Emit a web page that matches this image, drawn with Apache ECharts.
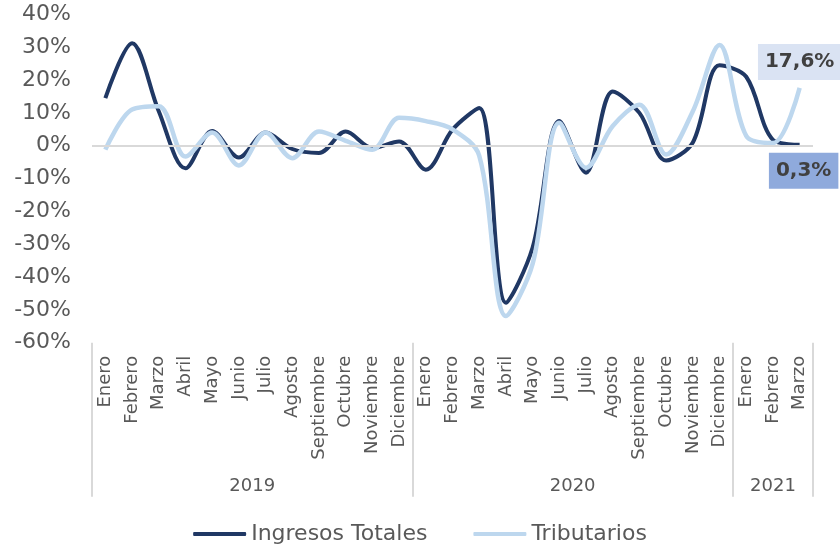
<!DOCTYPE html>
<html>
<head>
<meta charset="utf-8">
<script src="https://cdn.jsdelivr.net/npm/echarts@6/dist/echarts.min.js"></script>
<style>
  html, body { margin: 0; padding: 0; background: #fff; }
  #chart { width: 840px; height: 544px; }
</style>
</head>
<body>
<div id="chart"></div>
<script>
// categories
const months = ['Enero', 'Febrero', 'Marzo', 'Abril', 'Mayo', 'Junio', 'Julio', 'Agosto',
  'Septiembre', 'Octubre', 'Noviembre', 'Diciembre',
  'Enero', 'Febrero', 'Marzo', 'Abril', 'Mayo', 'Junio', 'Julio', 'Agosto',
  'Septiembre', 'Octubre', 'Noviembre', 'Diciembre',
  'Enero', 'Febrero', 'Marzo'];
const years = ['2019', '2020', '2021'];
const monthsPerYear = [12, 12, 3];

// series values (%)
const ingresosTotales = [14.5, 31.2, 10.5, -6.9, 4.5, -3.6, 4.0, -1.0, -2.2, 4.3, -0.7, 1.3,
  -7.3, 4.9, 11.5, -47.8, -31.0, 7.5, -8.2, 16.5, 10.0, -4.5, 1.0, 24.5,
  21.0, 1.8, 0.3];
const tributarios = [-1.2, 11.0, 12.0, -3.3, 4.0, -6.0, 4.0, -3.8, 4.3, 1.5, -1.2, 8.5,
  7.5, 5.0, -3.0, -51.9, -36.0, 7.0, -6.7, 6.0, 12.5, -2.7, 10.5, 30.7,
  3.0, 0.8, 17.6];

const FONT = 'DejaVu Sans';
const GRAY = '#595959';

// year level axis: two slots per month, ticks on year boundaries
const halfSlots = [];
const boundaries = [0];
const yearCenters = {};
let pos = 0;
monthsPerYear.forEach((n, k) => {
  yearCenters[pos + n] = years[k];
  pos += n * 2;
  boundaries.push(pos);
});
for (let j = 0; j <= pos; j++) halfSlots.push(yearCenters[j] || '');

const fmt = v => v.toFixed(1).replace('.', ',') + '%';

function lastLabel(values, opts) {
  return values.map((v, i) => i === values.length - 1
    ? { value: v, label: Object.assign({
        show: true,
        formatter: p => fmt(p.value),
        fontFamily: FONT,
        fontSize: 20,
        fontWeight: 'bold',
        color: '#404040',
        padding: [8, 7, 8, 7]
      }, opts) }
    : v);
}

const chart = echarts.init(document.getElementById('chart'));

chart.setOption({
  animation: false,
  grid: { left: 92, right: 27, top: 14.4, bottom: 201.3 },
  legend: {
    top: 518,
    left: 'center',
    itemWidth: 53,
    itemHeight: 4,
    itemGap: 46,
    icon: 'roundRect',
    textStyle: { fontFamily: FONT, fontSize: 22, color: GRAY },
    data: ['Ingresos Totales', 'Tributarios']
  },
  xAxis: [
    {
      type: 'category',
      data: months,
      position: 'bottom',
      axisLine: { show: false },
      axisTick: { show: false },
      axisLabel: {
        interval: 0,
        rotate: 90,
        margin: 13,
        fontFamily: FONT,
        fontSize: 18,
        color: GRAY
      }
    },
    {
      type: 'category',
      data: halfSlots,
      boundaryGap: false,
      position: 'bottom',
      axisLine: { show: false },
      axisTick: {
        show: true,
        length: 154,
        interval: idx => boundaries.includes(idx),
        lineStyle: { color: '#d9d9d9', width: 2 }
      },
      axisLabel: {
        interval: (idx, val) => val !== '',
        margin: 135,
        fontFamily: FONT,
        fontSize: 18,
        color: GRAY
      }
    }
  ],
  yAxis: {
    type: 'value',
    min: -60,
    max: 40,
    interval: 10,
    axisLine: { show: false },
    axisTick: { show: false },
    splitLine: { show: false },
    axisLabel: {
      margin: 21,
      fontFamily: FONT,
      fontSize: 22,
      color: GRAY,
      formatter: v => v + '%'
    }
  },
  series: [
    {
      name: 'Ingresos Totales',
      type: 'line',
      smooth: 0.33,
      symbol: 'circle',
      symbolSize: 0,
      showAllSymbol: true,
      lineStyle: { color: '#203864', width: 4 },
      itemStyle: { color: '#203864' },
      data: lastLabel(ingresosTotales, {
        position: 'bottom',
        distance: 8,
        offset: [4, 0],
        backgroundColor: '#8faadc'
      }),
      markLine: {
        silent: true,
        symbol: 'none',
        label: { show: false },
        lineStyle: { color: '#d9d9d9', width: 2, type: 'solid' },
        data: [{ yAxis: 0 }]
      },
      z: 3
    },
    {
      name: 'Tributarios',
      type: 'line',
      smooth: 0.33,
      symbol: 'circle',
      symbolSize: 0,
      showAllSymbol: true,
      lineStyle: { color: '#bdd7ee', width: 4.5 },
      itemStyle: { color: '#bdd7ee' },
      data: lastLabel(tributarios, {
        position: 'top',
        distance: 8,
        backgroundColor: '#dae3f3'
      }),
      z: 4
    }
  ]
});
</script>
</body>
</html>
